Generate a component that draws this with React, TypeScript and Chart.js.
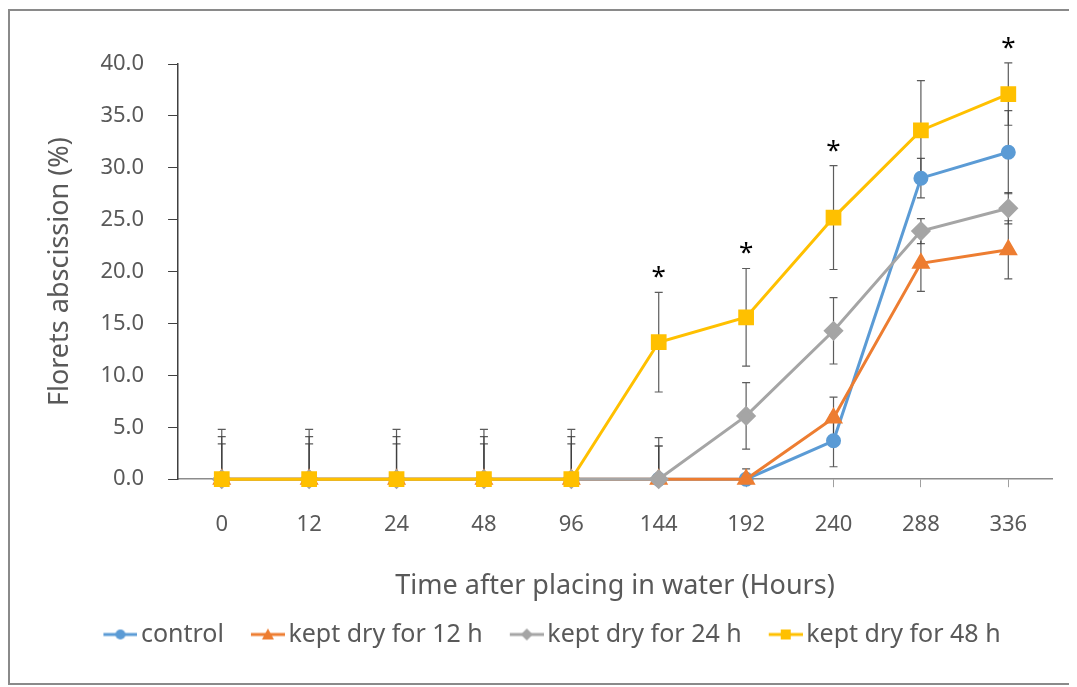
import React, { useEffect, useRef } from "react";
import { Chart, registerables } from "chart.js";

Chart.register(...registerables);

const categories = ["0", "12", "24", "48", "96", "144", "192", "240", "288", "336"];
const controlValues = [0, 0, 0, 0, 0, 0, 0, 3.7, 29.0, 31.5];
const dry12Values = [0, 0, 0, 0, 0, 0, 0, 5.9, 20.8, 22.1];
const dry24Values = [0, 0, 0, 0, 0, 0, 6.1, 14.3, 23.9, 26.1];
const dry48Values = [0, 0, 0, 0, 0, 13.2, 15.6, 25.2, 33.6, 37.1];

const controlErrors = [4.8, 4.8, 4.8, 4.8, 4.8, 3.2, 0, 2.5, 1.9, 4.0];
const dry12Errors = [4.1, 4.1, 4.1, 4.1, 4.1, 3.2, 1.0, 2.0, 2.7, 2.8];
const dry24Errors = [3.4, 3.4, 3.4, 3.4, 3.4, 4.0, 3.2, 3.2, 1.2, 1.5];
const dry48Errors = [0, 0, 0, 0, 0, 4.8, 4.7, 5.0, 4.8, 3.0];

const significance = ["", "", "", "", "", "*", "*", "*", "", "*"];
const yTicks = [0, 5, 10, 15, 20, 25, 30, 35, 40];

const seriesNames = ["control", "kept dry for 12 h", "kept dry for 24 h", "kept dry for 48 h"];
const seriesColors = ["#5B9BD5", "#ED7D31", "#A5A5A5", "#FFC000"];
const seriesStyles = ["circle", "triangle", "rectRot", "rect"];
const seriesRadii = [6, 8, 8, 9];

const FONT = "'Noto Sans', sans-serif";
const TEXT = "#595959";

const ICON_W = 51;
const ICON_LINE = 34;

function makeIcon(color: string, style: string): HTMLCanvasElement {
  const c = document.createElement("canvas");
  c.width = ICON_W;
  c.height = 18;
  const ctx = c.getContext("2d")!;
  ctx.strokeStyle = color;
  ctx.fillStyle = color;
  ctx.lineWidth = 3;
  const x0 = ICON_W - ICON_LINE;
  ctx.beginPath();
  ctx.moveTo(x0, 9);
  ctx.lineTo(ICON_W, 9);
  ctx.stroke();
  const cx = x0 + ICON_LINE / 2, cy = 9, r = 5;
  ctx.beginPath();
  if (style === "circle") {
    ctx.arc(cx, cy, r, 0, Math.PI * 2);
  } else if (style === "triangle") {
    ctx.moveTo(cx, cy - r - 1);
    ctx.lineTo(cx + r + 1, cy + r);
    ctx.lineTo(cx - r - 1, cy + r);
    ctx.closePath();
  } else if (style === "rectRot") {
    ctx.moveTo(cx, cy - r - 1);
    ctx.lineTo(cx + r + 1, cy);
    ctx.lineTo(cx, cy + r + 1);
    ctx.lineTo(cx - r - 1, cy);
    ctx.closePath();
  } else {
    ctx.rect(cx - r, cy - r, 2 * r, 2 * r);
  }
  ctx.fill();
  return c;
}

export default function App() {
  const ref = useRef<HTMLCanvasElement | null>(null);

  useEffect(() => {
    if (!ref.current) return;
    const values = [controlValues, dry12Values, dry24Values, dry48Values];
    const errors = [controlErrors, dry12Errors, dry24Errors, dry48Errors];
    const icons = seriesColors.map((c, i) => makeIcon(c, seriesStyles[i]));

    const errorBars = {
      id: "errorBars",
      beforeDatasetsDraw(chart: any) {
        const ctx = chart.ctx;
        const y = chart.scales.y;
        ctx.save();
        ctx.strokeStyle = "rgba(64,64,64,0.85)";
        ctx.lineWidth = 1.2;
        values.forEach((vals, i) => {
          const meta = chart.getDatasetMeta(i);
          vals.forEach((v, j) => {
            const e = errors[i][j];
            if (!e) return;
            const x = meta.data[j].x;
            const top = y.getPixelForValue(v + e);
            const bot = y.getPixelForValue(Math.max(0, v - e));
            ctx.beginPath();
            ctx.moveTo(x, top);
            ctx.lineTo(x, bot);
            ctx.moveTo(x - 4, top);
            ctx.lineTo(x + 4, top);
            if (v - e > 0) {
              ctx.moveTo(x - 4, bot);
              ctx.lineTo(x + 4, bot);
            }
            ctx.stroke();
          });
        });
        ctx.restore();
      },
      afterDatasetsDraw(chart: any) {
        const ctx = chart.ctx;
        const y = chart.scales.y;
        const meta = chart.getDatasetMeta(0);
        ctx.save();
        ctx.fillStyle = "#000000";
        ctx.font = `26px ${FONT}`;
        ctx.textAlign = "center";
        ctx.textBaseline = "alphabetic";
        significance.forEach((s, j) => {
          if (!s) return;
          let m = 0;
          values.forEach((vals, i) => {
            m = Math.max(m, vals[j] + errors[i][j]);
          });
          const x = meta.data[j].x;
          ctx.fillText(s, x, y.getPixelForValue(m) - 7);
        });
        ctx.restore();
      },
    };

    const chart = new Chart(ref.current, {
      type: "line",
      data: {
        labels: categories,
        datasets: values.map((vals, i) => ({
          label: seriesNames[i],
          data: vals,
          borderColor: seriesColors[i],
          backgroundColor: seriesColors[i],
          pointBackgroundColor: seriesColors[i],
          pointBorderColor: seriesColors[i],
          pointStyle: seriesStyles[i] as any,
          pointRadius: seriesRadii[i],
          borderWidth: 3,
          tension: 0,
          order: 4 - i,
          clip: false as any,
        })),
      },
      options: {
        responsive: false,
        animation: false,
        layout: { padding: { left: 34, right: 20, top: 53, bottom: 26 } },
        scales: {
          x: {
            type: "category",
            offset: true,
            grid: {
              display: true,
              drawOnChartArea: false,
              drawTicks: true,
              tickLength: 8,
              offset: false,
              color: "#a0a0a0",
            },
            border: { display: true, color: "#8c8c8c", width: 1.5 },
            ticks: { color: TEXT, font: { family: FONT, size: 22 }, padding: 24 },
            title: {
              display: true,
              text: "Time after placing in water (Hours)",
              color: TEXT,
              font: { family: FONT, size: 27 },
              padding: { top: 9, bottom: 0 },
            },
          },
          y: {
            min: 0,
            max: 40,
            afterBuildTicks(scale: any) {
              scale.ticks = yTicks.map((v) => ({ value: v }));
            },
            grid: {
              display: true,
              drawOnChartArea: false,
              drawTicks: true,
              tickLength: 10,
              color: "#404040",
            },
            border: { display: true, color: "#404040", width: 1.5 },
            ticks: {
              color: TEXT,
              font: { family: FONT, size: 22 },
              padding: 24,
              callback: (v: any) => Number(v).toFixed(1),
            },
            title: {
              display: true,
              text: "Florets abscission (%)",
              color: TEXT,
              font: { family: FONT, size: 27 },
              padding: { top: 0, bottom: 0 },
            },
          },
        },
        plugins: {
          legend: {
            position: "bottom",
            labels: {
              usePointStyle: true,
              pointStyleWidth: 33,
              boxHeight: 18,
              padding: 19,
              color: TEXT,
              font: { family: FONT, size: 25 },
              sort: (a: any, b: any) => a.datasetIndex - b.datasetIndex,
              generateLabels: (c: any) =>
                (Chart.defaults.plugins.legend.labels.generateLabels as any)(c).map((l: any) => ({
                  ...l,
                  text: seriesNames[l.datasetIndex],
                  pointStyle: icons[l.datasetIndex],
                  fontColor: TEXT,
                })),
            },
          },
          tooltip: { enabled: false },
        },
      },
      plugins: [errorBars],
    });
    return () => chart.destroy();
  }, []);

  return (
    <div
      style={{
        width: 1066,
        height: 676,
        border: "2px solid #8a8a8a",
        boxSizing: "border-box",
        marginTop: 1,
        background: "#ffffff",
      }}
    >
      <canvas ref={ref} width={1062} height={672} style={{ display: "block" }} />
    </div>
  );
}
